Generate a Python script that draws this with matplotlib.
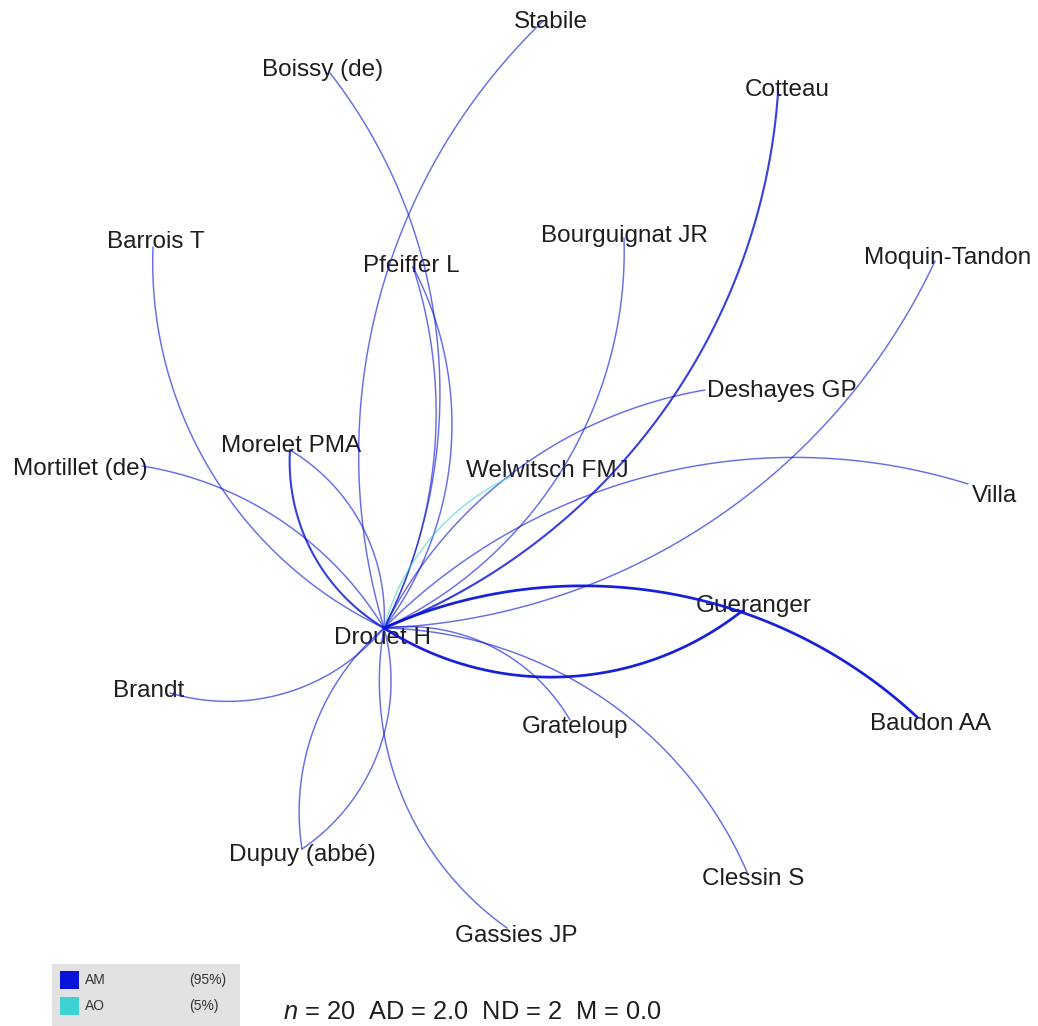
import numpy as np
import matplotlib.pyplot as plt
from matplotlib.patches import Rectangle

plt.rcParams['font.family'] = ['Liberation Sans', 'DejaVu Sans']
plt.rcParams['mathtext.fontset'] = 'custom'
plt.rcParams['mathtext.rm'] = 'Liberation Sans'
plt.rcParams['mathtext.it'] = 'Liberation Sans:italic'

# layout of the correspondents (screen coordinates, y grows downward)
node_names = ["Drouet H", "Stabile", "Boissy (de)", "Cotteau", "Barrois T",
              "Bourguignat JR", "Pfeiffer L", "Moquin-Tandon", "Deshayes GP",
              "Morelet PMA", "Mortillet (de)", "Welwitsch FMJ", "Villa",
              "Gueranger", "Brandt", "Grateloup", "Baudon AA", "Dupuy (abbé)",
              "Clessin S", "Gassies JP"]
node_x = [384, 542, 330, 778, 153, 624, 413, 935, 705, 290, 142, 510, 968,
          742, 170, 570, 917, 302, 747, 507]
node_y = [628, 22, 73, 93, 247, 238, 267, 261, 390, 450, 466, 477, 484,
          611, 693, 720, 717, 849, 872, 928]
label_x = [383, 551, 323, 787, 156, 624, 411, 948, 782, 291, 80, 547, 995,
           754, 149, 575, 931, 302, 753, 516]
label_y = [638, 22, 70, 90, 242, 236, 266, 258, 391, 446, 469, 471, 496,
           606, 691, 727, 724, 855, 879, 936]

# letters exchanged with Drouet H: target, weight, letter type, bend
edge_target = ["Stabile", "Boissy (de)", "Cotteau", "Barrois T", "Bourguignat JR",
               "Pfeiffer L", "Pfeiffer L", "Moquin-Tandon", "Deshayes GP",
               "Morelet PMA", "Morelet PMA", "Mortillet (de)", "Welwitsch FMJ",
               "Villa", "Gueranger", "Baudon AA", "Brandt", "Grateloup",
               "Clessin S", "Gassies JP", "Dupuy (abbé)", "Dupuy (abbé)"]
edge_weight = [1, 1, 2, 1, 1, 1, 1, 1, 1, 2, 1, 1, 1, 1, 3, 3, 1, 1, 1, 1, 1, 1]
edge_type = ["AM"] * 12 + ["AO"] + ["AM"] * 9
edge_bend = [-0.14, 0.145, 0.145, -0.15, 0.15, 0.145, 0.10, 0.14, -0.12,
             -0.14, 0.14, 0.11, -0.11, -0.14, 0.16, -0.15, -0.15, -0.15,
             -0.146, 0.145, 0.13, -0.16]

legend_types = ["AM", "AO"]
legend_share = ["(95%)", "(5%)"]
type_colors = {"AM": "#0a14d8", "AO": "#3fd2d2"}
stats_line = r"$n$ = 20  AD = 2.0  ND = 2  M = 0.0"


def arc_points(p0, p1, bend, n=120):
    d = p1 - p0
    length = np.hypot(*d)
    normal = np.array([-d[1], d[0]]) / length
    h = bend * length
    if abs(h) < 1e-6:
        return np.vstack([p0, p1])
    radius = (length ** 2 / 4 + h ** 2) / (2 * abs(h))
    center = (p0 + p1) / 2 - np.sign(h) * normal * (radius - abs(h))
    a0 = np.arctan2(*(p0 - center)[::-1])
    a1 = np.arctan2(*(p1 - center)[::-1])
    delta = (a1 - a0 + np.pi) % (2 * np.pi) - np.pi
    t = a0 + delta * np.linspace(0, 1, n)
    return np.column_stack([center[0] + radius * np.cos(t),
                            center[1] + radius * np.sin(t)])


pos = {name: np.array([x, y], float) for name, x, y in zip(node_names, node_x, node_y)}

fig = plt.figure(figsize=(10.38, 10.26), dpi=100)
ax = fig.add_axes([0, 0, 1, 1])
ax.set_xlim(0, 1038)
ax.set_ylim(1026, 0)
ax.axis("off")

hub = pos["Drouet H"]
for tgt, w, kind, bend in zip(edge_target, edge_weight, edge_type, edge_bend):
    pts = arc_points(hub, pos[tgt], bend)
    ax.plot(pts[:, 0], pts[:, 1], color=type_colors[kind],
            lw=0.6 + 0.45 * w, alpha=min(0.42 + 0.2 * w, 0.95),
            solid_capstyle="round", zorder=3)

for name, lx, ly in zip(node_names, label_x, label_y):
    ax.text(lx, ly, name, ha="center", va="center", fontsize=17.5,
            color="#1e1e1e", zorder=2)

# legend box
ax.add_patch(Rectangle((52, 964), 188, 62, facecolor="#e2e2e2",
                       edgecolor="none", zorder=1))
for i, (kind, share) in enumerate(zip(legend_types, legend_share)):
    y = 980 + i * 26
    ax.add_patch(Rectangle((60, y - 9), 19, 18, facecolor=type_colors[kind],
                           edgecolor="none", zorder=2))
    ax.text(85, y, kind, ha="left", va="center", fontsize=10, color="#333333")
    ax.text(189, y, share, ha="left", va="center", fontsize=10, color="#333333")

ax.text(283, 1012, stats_line, ha="left", va="center", fontsize=18.3,
        color="#1e1e1e")

fig.savefig("out.png", dpi=100)
